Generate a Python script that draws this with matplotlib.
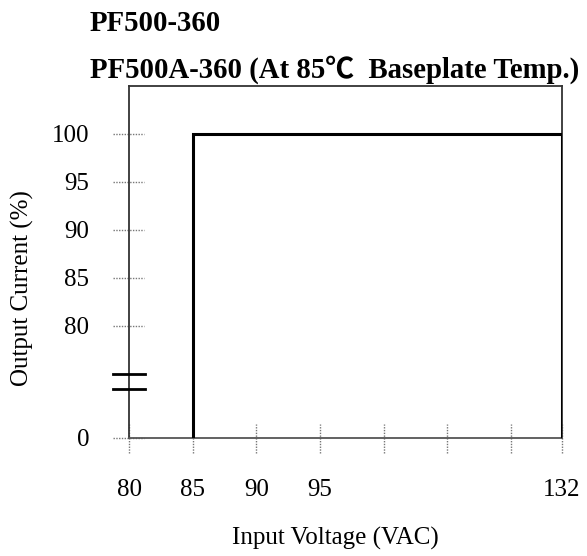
import numpy as np
import matplotlib.pyplot as plt
import matplotlib.transforms as mtransforms

# Datos de la curva (derating)
voltage = [85, 85, 132, 132]
current = [0, 100, 100, 0]

# Ejes con escala rota
x_tick_labels = ["80", "85", "90", "95", "", "", "", "132"]
x_tick_pos = [0, 1, 2, 3, 4, 5, 6, 6.8]
x_known_v = [80, 85, 90, 95, 132]
x_known_p = [0, 1, 2, 3, 6.8]

y_tick_values = [0, 80, 85, 90, 95, 100]
y_known_v = [0, 80, 100]
y_known_p = [0, 2.333, 6.333]

def xpos(v):
    return np.interp(v, x_known_v, x_known_p)

def ypos(v):
    return np.interp(v, y_known_v, y_known_p)

serif = ["Liberation Serif", "Noto Sans CJK SC", "DejaVu Serif"]
plt.rcParams["font.family"] = serif

fig = plt.figure(figsize=(5.87, 5.56), dpi=100)
ax = fig.add_axes([129.3 / 587, 1 - 437.7 / 556, 432.4 / 587, 351.7 / 556])

ax.plot(xpos(voltage), ypos(current), color="black", lw=2.2, solid_joinstyle="miter", zorder=3)

ax.set_xlim(0, 6.8)
ax.set_ylim(0, 7.33)
for s in ax.spines.values():
    s.set_color("#333333")
    s.set_linewidth(1.3)
ax.spines["bottom"].set_color("#555555")

# ticks dibujados a mano (punteados)
ax.set_xticks(x_tick_pos)
ax.set_xticklabels(x_tick_labels, fontsize=18)
ax.set_yticks(ypos(y_tick_values))
ax.set_yticklabels([str(v) for v in y_tick_values], fontsize=18)
ax.tick_params(length=0)
ax.tick_params(axis="x", pad=30)
ax.tick_params(axis="y", pad=29)

ty = mtransforms.blended_transform_factory(ax.transAxes, ax.transData)
tx = mtransforms.blended_transform_factory(ax.transData, ax.transAxes)
for p in ypos(y_tick_values):
    ax.plot([-0.037, 0.035], [p, p], transform=ty, color="#777777", lw=1,
            ls=(0, (1, 1)), clip_on=False, zorder=1)
for p in x_tick_pos:
    ax.plot([p, p], [-0.044, 0.04], transform=tx, color="#777777", lw=1,
            ls=(0, (1, 1)), clip_on=False, zorder=1)

# marcas de corte del eje
for b in [1.008, 1.327]:
    ax.plot([-0.037, 0.037], [b, b], transform=ty, color="black", lw=2,
            clip_on=False, zorder=4)

fig.text(335 / 587, 1 - 538 / 556, "Input Voltage (VAC)", fontsize=18,
         ha="center", va="center")
fig.text(22 / 587, 1 - 288 / 556, "Output Current (%)", fontsize=18,
         ha="center", va="center", rotation=90)

fig.text(90 / 587, 1 - 31 / 556, "PF500-360", fontsize=20.7, fontweight="bold",
         va="baseline", ha="left")
fig.text(90 / 587, 1 - 78 / 556, "PF500A-360 (At 85℃  Baseplate Temp.)", fontsize=20.7,
         fontweight="bold", va="baseline", ha="left")

fig.savefig("out.png", dpi=100)
